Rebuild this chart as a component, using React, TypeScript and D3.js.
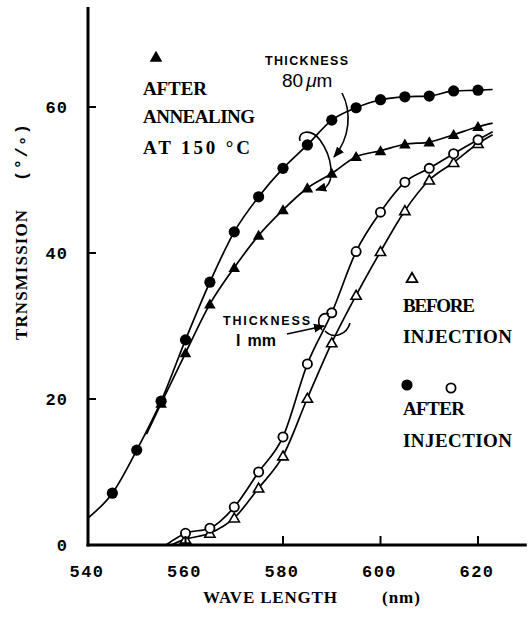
import React from "react";
import * as d3 from "d3";

// values: [wavelength nm, transmission %]
const afterInjection80 = [
  [545, 7.1], [550, 13], [555, 19.7], [560, 28.1], [565, 36], [570, 42.9], [575, 47.7],
  [580, 51.6], [585, 54.8], [590, 58.2], [595, 59.9], [600, 61], [605, 61.4],
  [610, 61.5], [615, 62.2], [620, 62.3],
];
const afterInjection80Ends = [[540, 3.7], [623, 62.4]];

const afterAnnealing80 = [
  [555, 19.4], [560, 26.3], [565, 33], [570, 38], [575, 42.4], [580, 45.9], [585, 48.9],
  [590, 50.9], [595, 53.2], [600, 54], [605, 54.9], [610, 55.2], [615, 56.2], [620, 57.3],
];
const afterAnnealing80Ends = [[552, 15.2], [623, 57.8]];

const afterInjection1mm = [
  [560, 1.6], [565, 2.3], [570, 5.2], [575, 10], [580, 14.8], [585, 24.8], [590, 31.8],
  [595, 40.2], [600, 45.6], [605, 49.7], [610, 51.6], [615, 53.6], [620, 55.5],
];
const afterInjection1mmEnds = [[556, 0], [623, 56.6]];

const beforeInjection1mm = [
  [560, 0.8], [565, 1.6], [570, 3.7], [575, 7.8], [580, 12.2], [585, 20.1], [590, 27.7],
  [595, 34.2], [600, 40.2], [605, 45.8], [610, 50], [615, 52.4], [620, 55],
];
const beforeInjection1mmEnds = [[557, 0], [623, 56.2]];

const xTicks = [540, 560, 580, 600, 620];
const yTicks = [0, 20, 40, 60];

const W = 530;
const H = 617;
const mono = "'Liberation Mono', 'DejaVu Sans Mono', monospace";
const slab = "'Liberation Serif', 'DejaVu Serif', serif";
const sans = "'Liberation Sans', Arial, sans-serif";

export default function App() {
  const x = d3.scaleLinear().domain([540, 630]).range([88, 526.75]);
  const y = d3.scaleLinear().domain([0, 73.7]).range([545, 7]);

  const line = d3
    .line<number[]>()
    .x((d) => x(d[0]))
    .y((d) => y(d[1]))
    .curve(d3.curveMonotoneX);

  const withEnds = (pts: number[][], ends: number[][]) => [ends[0], ...pts, ends[1]];

  const triFilled = d3.symbol(d3.symbolTriangle, 58)()!;
  const triOpen = d3.symbol(d3.symbolTriangle, 46)()!;

  return (
    <svg width={W} height={H} style={{ position: "absolute", left: 0, top: 0, background: "#fff" }}>
      <defs>
        <marker id="ah" viewBox="0 0 10 10" refX="9" refY="5" markerWidth="7" markerHeight="7" orient="auto">
          <path d="M0,1 L10,5 L0,9 z" fill="#000" />
        </marker>
      </defs>
      <rect width={W} height={H} fill="#fff" />

      {/* curves */}
      <g fill="none" stroke="#000" strokeWidth={1.7}>
        <path d={line(withEnds(afterInjection80, afterInjection80Ends))!} />
        <path d={line(withEnds(afterAnnealing80, afterAnnealing80Ends))!} />
        <path d={line(withEnds(afterInjection1mm, afterInjection1mmEnds))!} />
        <path d={line(withEnds(beforeInjection1mm, beforeInjection1mmEnds))!} />
      </g>

      {/* markers */}
      {afterAnnealing80.map((d, i) => (
        <path key={"fa" + i} d={triFilled} transform={`translate(${x(d[0])},${y(d[1]) + 1})`} fill="#000" />
      ))}
      {afterInjection80.map((d, i) => (
        <circle key={"fc" + i} cx={x(d[0])} cy={y(d[1])} r={5.6} fill="#000" />
      ))}
      {beforeInjection1mm.map((d, i) => (
        <path key={"ot" + i} d={triOpen} transform={`translate(${x(d[0])},${y(d[1]) + 1})`} fill="#fff" stroke="#000" strokeWidth={1.6} />
      ))}
      {afterInjection1mm.map((d, i) => (
        <circle key={"oc" + i} cx={x(d[0])} cy={y(d[1])} r={4.6} fill="#fff" stroke="#000" strokeWidth={1.8} />
      ))}

      {/* axes */}
      <g stroke="#000" strokeWidth={3} fill="none">
        <line x1={x(540)} y1={y(73.7)} x2={x(540)} y2={y(0) + 1.5} />
        <line x1={x(540) - 1.5} y1={y(0)} x2={x(630)} y2={y(0)} />
      </g>
      <g stroke="#000" strokeWidth={2}>
        {yTicks.filter((t) => t > 0).map((t) => (
          <line key={"yt" + t} x1={x(540)} x2={x(540) + 8} y1={y(t)} y2={y(t)} />
        ))}
        {xTicks.filter((t) => t > 540).map((t) => (
          <line key={"xt" + t} x1={x(t)} x2={x(t)} y1={y(0)} y2={y(0) - 9} />
        ))}
      </g>

      {/* tick labels */}
      <g fontFamily={mono} fontWeight="bold" fontSize={17} fill="#000">
        {yTicks.map((t) => (
          <text key={"yl" + t} x={68} y={y(t) + 6} textAnchor="end" letterSpacing={1}>
            {t}
          </text>
        ))}
        {xTicks.map((t) => (
          <text key={"xl" + t} x={x(t) - 1} y={577} textAnchor="middle" letterSpacing={1.5}>
            {t}
          </text>
        ))}
      </g>

      {/* axis titles */}
      <g fontFamily={slab} fontWeight="bold" fontSize={17} fill="#000">
        <text x={203} y={603} textLength={134} lengthAdjust="spacing">WAVE LENGTH</text>
        <text x={382} y={603} letterSpacing={1}>(nm)</text>
        <g transform="translate(27,0) rotate(-90)">
          <text x={-340} y={0} textLength={130} lengthAdjust="spacing">TRNSMISSION</text>
          <text x={-181} y={0} fontFamily={mono} letterSpacing={1.5}>
            (°/<tspan dy={5}>°</tspan><tspan dy={-5}>)</tspan>
          </text>
        </g>
      </g>

      {/* left legend */}
      <path d={d3.symbol(d3.symbolTriangle, 70)()!} transform="translate(156,58)" fill="#000" />
      <g fontFamily={slab} fontWeight="bold" fontSize={19} fill="#000">
        <text x={143} y={95} textLength={64} lengthAdjust="spacing">AFTER</text>
        <text x={143} y={123} textLength={112} lengthAdjust="spacing">ANNEALING</text>
        <text x={143} y={154} textLength={107} lengthAdjust="spacing">AT 150 °C</text>
      </g>

      {/* right legend */}
      <path d={d3.symbol(d3.symbolTriangle, 50)()!} transform="translate(412,279)" fill="#fff" stroke="#000" strokeWidth={1.8} />
      <circle cx={407} cy={385} r={5.6} fill="#000" />
      <circle cx={451} cy={388} r={4.6} fill="#fff" stroke="#000" strokeWidth={1.8} />
      <g fontFamily={slab} fontWeight="bold" fontSize={19} fill="#000">
        <text x={403} y={312} textLength={72} lengthAdjust="spacing">BEFORE</text>
        <text x={403} y={343} textLength={109} lengthAdjust="spacing">INJECTION</text>
        <text x={403} y={415} textLength={62} lengthAdjust="spacing">AFTER</text>
        <text x={403} y={447} textLength={109} lengthAdjust="spacing">INJECTION</text>
      </g>

      {/* thickness 80 um annotation */}
      <g fill="#000">
        <text x={265} y={65} fontFamily={sans} fontWeight="bold" fontSize={12.5} textLength={83} lengthAdjust="spacing">THICKNESS</text>
        <text x={282} y={87} fontFamily={sans} fontSize={19}>
          80<tspan dx={3} fontStyle="italic">μ</tspan>m
        </text>
      </g>
      <g fill="none" stroke="#000" strokeWidth={1.6}>
        <path d="M342,93 C352,112 350,138 334,157" markerEnd="url(#ah)" />
        <path d="M300,141 C297,131 311,128 320,140 C333,158 334,180 326,187 L316,190" markerEnd="url(#ah)" />
      </g>

      {/* thickness 1 mm annotation */}
      <g fill="#000">
        <text x={223} y={325} fontFamily={sans} fontWeight="bold" fontSize={12.5} textLength={87} lengthAdjust="spacing">THICKNESS</text>
        <text x={236} y={346} fontFamily={sans} fontWeight="bold" fontSize={16}>
          l<tspan dx={7}>mm</tspan>
        </text>
      </g>
      <g fill="none" stroke="#000" strokeWidth={1.6}>
        <path d="M287,334 L324,326" markerEnd="url(#ah)" />
        <path d="M322,330 C315,320 320,312 329,314" />
        <path d="M325,331 C334,340 347,334 350,323" />
      </g>
    </svg>
  );
}
